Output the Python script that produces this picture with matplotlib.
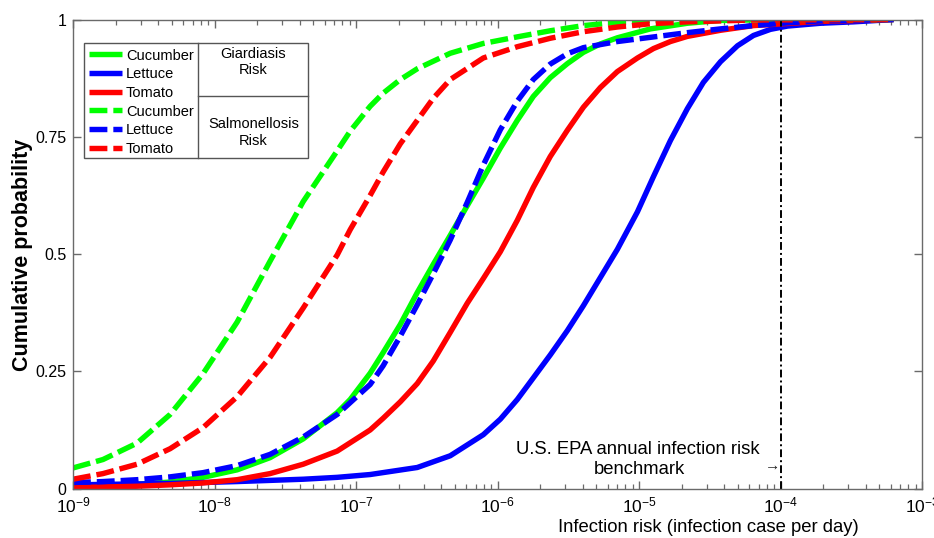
import numpy as np
import matplotlib
matplotlib.use('Agg')
import matplotlib.pyplot as plt
from matplotlib.ticker import LogLocator, FixedLocator, FuncFormatter, NullFormatter
from matplotlib.lines import Line2D
from matplotlib.patches import Rectangle

plt.rcParams['font.family'] = ['Liberation Sans', 'DejaVu Sans']
plt.rcParams['mathtext.fontset'] = 'custom'
plt.rcParams['mathtext.rm'] = 'Liberation Sans'
plt.rcParams['mathtext.it'] = 'Liberation Sans:italic'
plt.rcParams['mathtext.bf'] = 'Liberation Sans:bold'

# log10 of infection risk and cumulative probability
# Giardiasis risk (solid)
cuc_g_x = [-9.0, -8.547, -8.314, -8.081, -7.840, -7.607, -7.373, -7.133, -7.041, -6.900, -6.808, -6.687,
           -6.567, -6.454, -6.334, -6.214, -6.100, -5.980, -5.860, -5.747, -5.627, -5.506, -5.393, -5.273,
           -5.153, -4.919, -4.658, -4.424, -4.0, -3.201]
cuc_g_p = [0.005, 0.009, 0.014, 0.024, 0.040, 0.066, 0.106, 0.162, 0.190, 0.246, 0.290, 0.350,
           0.418, 0.478, 0.540, 0.603, 0.662, 0.726, 0.785, 0.836, 0.876, 0.906, 0.930, 0.948,
           0.961, 0.980, 0.992, 0.998, 1.0, 1.0]

let_g_x = [-9.0, -8.314, -7.840, -7.373, -7.133, -6.900, -6.567, -6.334, -6.100, -5.980, -5.860, -5.747,
           -5.627, -5.506, -5.393, -5.273, -5.153, -5.011, -4.898, -4.778, -4.658, -4.545, -4.424, -4.304,
           -4.191, -4.071, -3.950, -3.717, -3.484, -3.201]
let_g_p = [0.008, 0.011, 0.015, 0.020, 0.024, 0.030, 0.045, 0.070, 0.115, 0.148, 0.190, 0.236,
           0.285, 0.337, 0.390, 0.450, 0.510, 0.590, 0.665, 0.742, 0.810, 0.866, 0.910, 0.944,
           0.966, 0.979, 0.986, 0.992, 0.995, 1.0]

tom_g_x = [-9.0, -8.547, -8.314, -8.081, -7.840, -7.607, -7.373, -7.133, -6.900, -6.808, -6.687, -6.567,
           -6.454, -6.334, -6.214, -6.100, -5.980, -5.860, -5.747, -5.627, -5.506, -5.393, -5.273, -5.153,
           -5.011, -4.898, -4.778, -4.658, -4.424, -4.191, -3.717, -3.201]
tom_g_p = [0.002, 0.005, 0.008, 0.012, 0.019, 0.032, 0.052, 0.080, 0.125, 0.150, 0.185, 0.224,
           0.272, 0.333, 0.395, 0.448, 0.505, 0.572, 0.642, 0.708, 0.764, 0.813, 0.855, 0.889,
           0.918, 0.938, 0.953, 0.964, 0.977, 0.987, 0.996, 1.0]

# Salmonellosis risk (dashed)
cuc_s_x = [-9.0, -8.788, -8.547, -8.314, -8.081, -7.840, -7.607, -7.373, -7.133, -7.041, -6.900, -6.808,
           -6.687, -6.567, -6.334, -6.100, -5.860, -5.627, -5.393, -5.153, -4.919, -4.566, -3.201]
cuc_s_p = [0.044, 0.062, 0.097, 0.158, 0.245, 0.355, 0.485, 0.612, 0.720, 0.762, 0.815, 0.843,
           0.872, 0.895, 0.928, 0.949, 0.963, 0.976, 0.987, 0.994, 0.998, 1.0, 1.0]

let_s_x = [-9.0, -8.788, -8.547, -8.314, -8.081, -7.840, -7.607, -7.373, -7.133, -6.900, -6.808, -6.687,
           -6.567, -6.454, -6.334, -6.214, -6.100, -5.980, -5.860, -5.747, -5.627, -5.506, -5.393, -5.153,
           -4.919, -4.658, -4.424, -4.191, -3.950, -3.717, -3.201]
let_s_p = [0.013, 0.015, 0.019, 0.025, 0.034, 0.049, 0.073, 0.110, 0.158, 0.222, 0.262, 0.325,
           0.392, 0.458, 0.530, 0.610, 0.690, 0.765, 0.826, 0.872, 0.905, 0.927, 0.940, 0.953,
           0.962, 0.972, 0.980, 0.987, 0.993, 0.997, 1.0]

tom_s_x = [-9.0, -8.788, -8.547, -8.314, -8.081, -7.840, -7.607, -7.373, -7.133, -7.041, -6.900, -6.808,
           -6.687, -6.567, -6.454, -6.334, -6.100, -5.860, -5.627, -5.393, -5.153, -4.919, -4.658, -4.191,
           -3.201]
tom_s_p = [0.020, 0.032, 0.052, 0.085, 0.130, 0.196, 0.280, 0.385, 0.498, 0.552, 0.625, 0.675,
           0.735, 0.785, 0.832, 0.872, 0.918, 0.942, 0.960, 0.974, 0.984, 0.991, 0.995, 0.999,
           1.0]

labels = ['Cucumber', 'Lettuce', 'Tomato']
colors = ['#00ff00', '#0000ff', '#ff0000']
epa_benchmark = 1e-4

W, H = 934, 538
fig = plt.figure(figsize=(W / 100, H / 100), dpi=100)

def fx(px):
    return px / W

def fy(py):
    return 1 - py / H

ax = fig.add_axes([fx(73), fy(488.6), fx(922) - fx(73), fy(19.5) - fy(488.6)])

lw = 3.9
dash = (3.3, 1.1)
handles = []
for xs, ps, c in zip([cuc_g_x, let_g_x, tom_g_x], [cuc_g_p, let_g_p, tom_g_p], colors):
    ln, = ax.plot(10 ** np.array(xs), ps, color=c, lw=lw, solid_capstyle='butt', solid_joinstyle='round')
    handles.append(ln)
for xs, ps, c in zip([cuc_s_x, let_s_x, tom_s_x], [cuc_s_p, let_s_p, tom_s_p], colors):
    ln, = ax.plot(10 ** np.array(xs), ps, color=c, lw=lw, dashes=dash, dash_capstyle='butt',
                  dash_joinstyle='round')
    handles.append(ln)

ax.axvline(epa_benchmark, color='black', lw=1.4, linestyle=(0, (4, 1.6, 1, 1.6)))

ax.set_xscale('log')
ax.set_xlim(1e-9, 1e-3)
ax.set_ylim(0, 1)

spine_c = '#6a6a6a'
for s in ax.spines.values():
    s.set_color(spine_c)
    s.set_linewidth(1.0)

ax.xaxis.set_major_locator(LogLocator(base=10, numticks=10))
ax.xaxis.set_minor_locator(LogLocator(base=10, subs=np.arange(2, 10), numticks=100))
ax.xaxis.set_major_formatter(FuncFormatter(lambda v, pos: r'$\mathregular{10^{%d}}$' % round(np.log10(v))))
ax.xaxis.set_minor_formatter(NullFormatter())
ax.yaxis.set_major_locator(FixedLocator([0, 0.25, 0.5, 0.75, 1]))
ax.set_yticklabels(['0', '0.25', '0.5', '0.75', '1'])

ax.tick_params(which='both', direction='in', top=True, right=True, color=spine_c,
               labelcolor='black')
ax.tick_params(axis='y', labelsize=11.5, pad=4.5)
ax.tick_params(axis='x', labelsize=12.5, pad=5)
ax.tick_params(which='major', length=6, width=1.0)
ax.tick_params(which='minor', length=3.5, width=0.9)

fig.text(fx(22.5), fy(255), 'Cumulative probability', rotation=90, fontsize=15.5,
         fontweight='bold', ha='center', va='center')
fig.text(fx(708), fy(527), 'Infection risk (infection case per day)', fontsize=13.3,
         ha='center', va='center')

fig.text(fx(638), fy(450), 'U.S. EPA annual infection risk', fontsize=13.3, ha='center', va='center')
fig.text(fx(639), fy(470), 'benchmark', fontsize=13.3, ha='center', va='center')
fig.text(fx(773), fy(466), '\u2192', fontsize=11, ha='center', va='center', color='#222222')

# legend table
leg = ax.legend(handles, labels * 2, loc='upper left', bbox_to_anchor=(fx(89), fy(48.5)),
                bbox_transform=fig.transFigure, frameon=False, fontsize=10.5, borderpad=0,
                borderaxespad=0, handlelength=2.26, handletextpad=0.28, labelspacing=0.32)
frame_c = '#555555'
fig.patches.append(Rectangle((fx(84.3), fy(158.3)), fx(308.3) - fx(84.3), fy(42.7) - fy(158.3),
                             transform=fig.transFigure, fill=False, edgecolor=frame_c, lw=1.0))
fig.lines.append(Line2D([fx(198.3), fx(198.3)], [fy(42.7), fy(158.3)], transform=fig.transFigure,
                        color=frame_c, lw=1.0))
fig.lines.append(Line2D([fx(198.3), fx(308.3)], [fy(96), fy(96)], transform=fig.transFigure,
                        color=frame_c, lw=1.0))
fig.text(fx(253.3), fy(62), 'Giardiasis\nRisk', fontsize=10.5, ha='center', va='center',
         linespacing=1.25)
fig.text(fx(253.3), fy(132.7), 'Salmonellosis\nRisk', fontsize=10.5, ha='center', va='center',
         linespacing=1.25)

fig.savefig('out.png', dpi=100)
plt.close()
